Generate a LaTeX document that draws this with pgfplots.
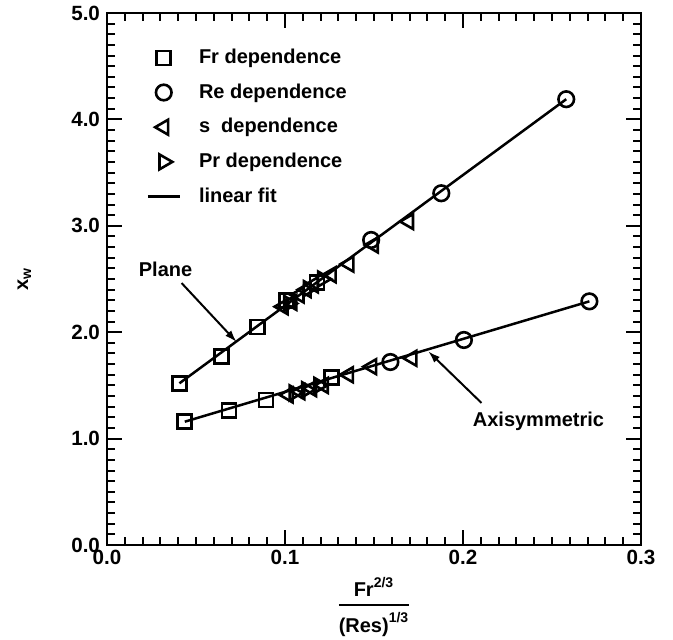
\documentclass[border=0pt]{standalone}
\usepackage{fontspec}
\setmainfont{Liberation Sans}
\usepackage{amsmath}
\usepackage{pgfplots}
\usepackage{pgfplotstable}
\pgfplotsset{compat=1.18}
\usetikzlibrary{arrows.meta}

% Plane case
\pgfplotstableread{
x y
0.0407 1.52
0.0642 1.77
0.0844 2.05
0.1007 2.30
0.1180 2.47
}\planeFr
\pgfplotstableread{
x y
0.1484 2.867
0.1878 3.306
0.2580 4.19
}\planeRe
\pgfplotstableread{
x y
0.0990 2.24
0.1040 2.28
0.1080 2.35
0.1120 2.40
0.1160 2.445
0.1260 2.54
0.1360 2.64
0.1497 2.82
0.1695 3.04
}\planeS
\pgfplotstableread{
x y
0.1020 2.27
0.1130 2.41
0.1210 2.50
}\planePr

% Axisymmetric case
\pgfplotstableread{
x y
0.0437 1.159
0.0686 1.262
0.0893 1.363
0.1260 1.576
}\axiFr
\pgfplotstableread{
x y
0.1592 1.72
0.2005 1.927
0.2710 2.29
}\axiRe
\pgfplotstableread{
x y
0.1019 1.41
0.1085 1.44
0.1150 1.47
0.1216 1.50
0.1357 1.60
0.1488 1.676
0.1714 1.755
}\axiS
\pgfplotstableread{
x y
0.1050 1.43
0.1120 1.46
0.1190 1.50
}\axiPr

\pgfplotsset{
  frmark/.style={only marks, mark=square, mark size=3.5pt, mark options={solid, line width=1.3pt}},
  remark/.style={only marks, mark=o, mark size=3.9pt, mark options={solid, line width=1.3pt}},
  smark/.style={only marks, mark=triangle, mark size=4.3pt, mark options={solid, line width=1.3pt, rotate=90}},
  prmark/.style={only marks, mark=triangle, mark size=4.3pt, mark options={solid, line width=1.3pt, rotate=-90}},
  fitline/.style={line width=1.25pt, no marks},
}

\begin{document}
\begin{tikzpicture}
\useasboundingbox (-53.5pt,-47pt) rectangle (283pt,272.5pt);
\begin{axis}[
  scale only axis, width=267pt, height=266pt,
  xmin=0, xmax=0.3, ymin=0, ymax=5,
  xtick={0,0.1,0.2,0.3}, ytick={0,1,2,3,4,5},
  minor x tick num=9, minor y tick num=9,
  tick align=inside,
  major tick length=7.5pt, minor tick length=4pt,
  axis line style={line width=1.2pt},
  every tick/.style={line width=1pt, black},
  tick label style={font=\fontsize{10.3}{12}\selectfont\bfseries,
    /pgf/number format/fixed, /pgf/number format/fixed zerofill,
    /pgf/number format/precision=1, /pgf/number format/assume math mode=true},
  xticklabel style={yshift=1pt},
  xlabel={$\genfrac{}{}{1.1pt}{0}{\textbf{Fr}^{\textbf{2/3}}}{\textbf{(Res)}^{\textbf{1/3}}}$},
  xlabel style={font=\fontsize{10}{12}\selectfont\bfseries, at={(axis description cs:0.5,0)}, anchor=center, yshift=-31pt},
  ylabel={x\textsubscript{w}},
  ylabel style={font=\fontsize{10}{12}\selectfont\bfseries, at={(axis description cs:-0.155,0.5)}, anchor=center},
  legend style={draw=none, fill=none, at={(axis description cs:0.062,0.948)}, anchor=north west,
    font=\fontsize{10}{12}\selectfont\bfseries, row sep=4.6pt, cells={anchor=west}},
  legend image code/.code={\draw[mark repeat=2,mark phase=2,#1] plot coordinates {(-8pt,0pt)(0pt,0pt)(8pt,0pt)}; \path (15pt,0pt);},
  every axis plot/.append style={black},
]
\addplot[frmark] table {\planeFr};
\addlegendentry{Fr dependence}
\addplot[remark] table {\planeRe};
\addlegendentry{Re dependence}
\addplot[smark] table {\planeS};
\addlegendentry{s\ \ dependence}
\addplot[prmark] table {\planePr};
\addlegendentry{Pr dependence}
\addplot[fitline] coordinates {(0.0407,1.52) (0.258,4.19)};
\addlegendentry{linear fit}

\addplot[forget plot, frmark] table {\axiFr};
\addplot[forget plot, remark] table {\axiRe};
\addplot[forget plot, smark] table {\axiS};
\addplot[forget plot, prmark] table {\axiPr};
\addplot[forget plot, fitline] coordinates {(0.0437,1.159) (0.271,2.29)};

\node[font=\fontsize{10}{12}\selectfont\bfseries] at (axis cs:0.0329,2.594) {Plane};
\draw[line width=1pt, -{Latex[length=6pt,width=4pt]}] (axis cs:0.0419,2.462) -- (axis cs:0.0728,1.908);
\node[font=\fontsize{10}{12}\selectfont\bfseries] at (axis cs:0.2424,1.16) {Axisymmetric};
\draw[line width=1pt, -{Latex[length=6pt,width=4pt]}] (axis cs:0.2104,1.335) -- (axis cs:0.1805,1.82);
\end{axis}
\end{tikzpicture}
\end{document}
